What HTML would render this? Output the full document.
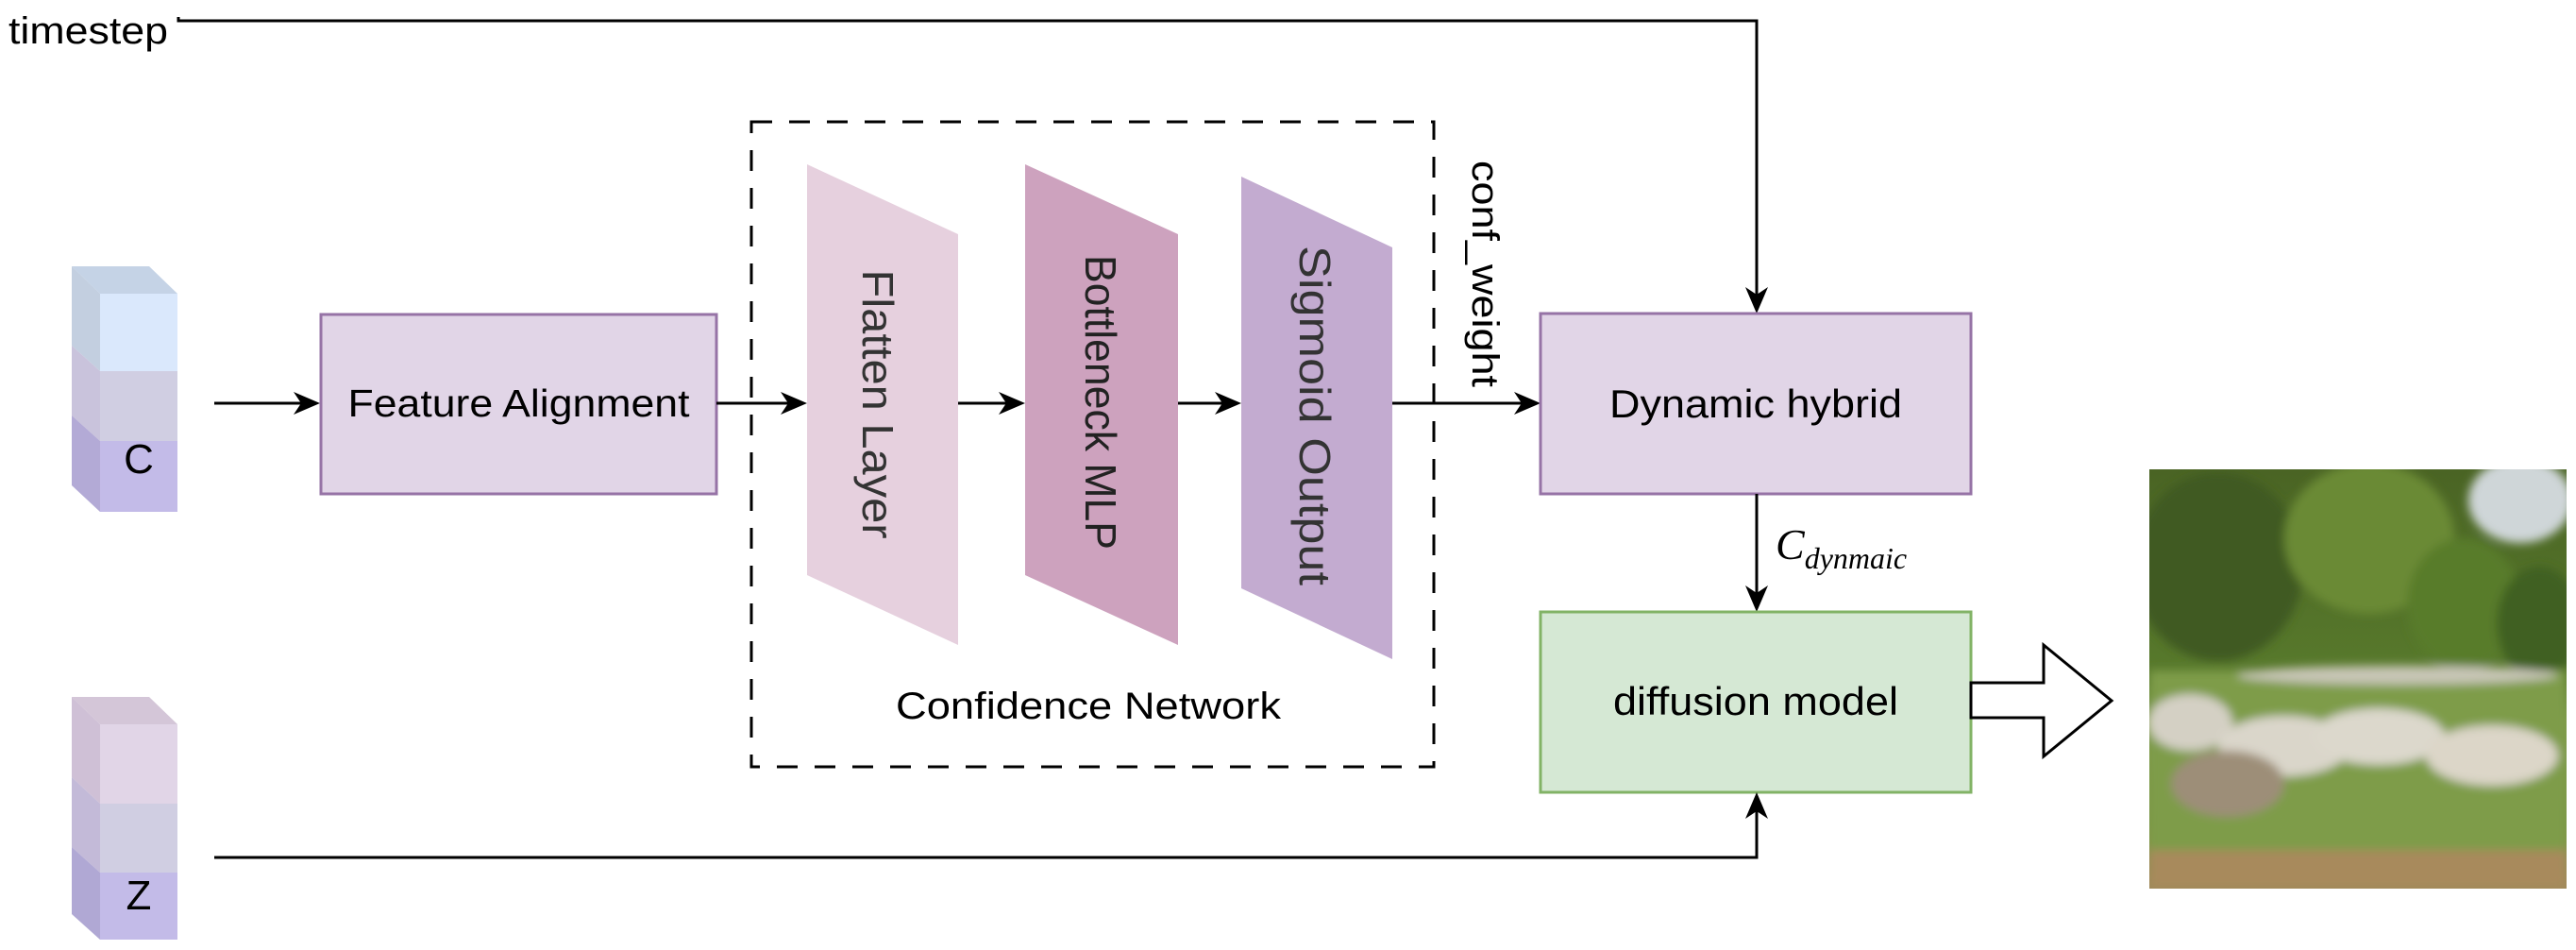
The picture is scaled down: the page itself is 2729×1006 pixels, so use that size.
<!DOCTYPE html>
<html><head><meta charset="utf-8"><style>html,body{margin:0;padding:0;background:#fff}svg{display:block}</style></head>
<body>
<svg width="2729" height="1006" viewBox="0 0 2729 1006" xmlns="http://www.w3.org/2000/svg" font-family="Liberation Sans, Arial, sans-serif">
<defs>
<linearGradient id="sky" x1="0" y1="0" x2="0" y2="1"><stop offset="0" stop-color="#4a6424"/><stop offset="0.5" stop-color="#587a2c"/><stop offset="0.6" stop-color="#7e9a4c"/><stop offset="0.85" stop-color="#7a9444"/><stop offset="1" stop-color="#9c8a5a"/></linearGradient>
<filter id="bl"><feGaussianBlur stdDeviation="5"/></filter>
<clipPath id="pc"><rect x="2277" y="497" width="442" height="444"/></clipPath>
</defs>

<text x="9" y="46" font-size="40" textLength="169" lengthAdjust="spacingAndGlyphs" fill="#000">timestep</text>
<polyline points="189,18 189,22 1861,22 1861,318" fill="none" stroke="#000" stroke-width="3"/>
<polygon points="1861,332 1849,304 1861,312 1873,304" fill="#000"/>

<polygon points="76,282 158,282 188,311 106,311" fill="#c5d3e6"/>
<polygon points="76,282 106,311 106,393 76,366" fill="#c3cfe0"/>
<polygon points="76,366 106,393 106,467 76,440" fill="#c9c3dc"/>
<polygon points="76,440 106,467 106,542 76,514" fill="#b3aad6"/>
<rect x="106" y="311" width="82" height="82" fill="#dae8fc"/>
<rect x="106" y="393" width="82" height="74" fill="#d0cee2"/>
<rect x="106" y="467" width="82" height="75" fill="#c3bbe8"/>
<text x="147" y="501" font-size="44" text-anchor="middle" fill="#000">C</text>

<polygon points="76,738 158,738 188,767 106,767" fill="#d4c6d8"/>
<polygon points="76,738 106,767 106,851 76,823" fill="#cfc0d6"/>
<polygon points="76,823 106,851 106,924 76,897" fill="#c3bad8"/>
<polygon points="76,897 106,924 106,995 76,968" fill="#b0a8d4"/>
<rect x="106" y="767" width="82" height="84" fill="#e1d5e7"/>
<rect x="106" y="851" width="82" height="73" fill="#d0cee2"/>
<rect x="106" y="924" width="82" height="71" fill="#c3bbe8"/>
<text x="147" y="963" font-size="44" text-anchor="middle" fill="#000">Z</text>

<line x1="227" y1="427" x2="325" y2="427" stroke="#000" stroke-width="3"/>
<polygon points="339,427 311,415 319,427 311,439" fill="#000"/>

<rect x="340" y="333" width="419" height="190" fill="#e1d5e7" stroke="#9673a6" stroke-width="3"/>
<text x="549.5" y="441" font-size="41" text-anchor="middle" textLength="362" lengthAdjust="spacingAndGlyphs" fill="#000">Feature Alignment</text>

<rect x="796" y="129" width="723" height="683" fill="none" stroke="#000" stroke-width="3" stroke-dasharray="22,18"/>
<text x="1153" y="761" font-size="40" text-anchor="middle" textLength="408" lengthAdjust="spacingAndGlyphs" fill="#000">Confidence Network</text>

<line x1="759" y1="427" x2="841" y2="427" stroke="#000" stroke-width="3"/>
<polygon points="855,427 827,415 835,427 827,439" fill="#000"/>

<polygon points="855,174 1015,248 1015,683 855,609" fill="#e6d0de"/>
<polygon points="1086,174 1248,248 1248,683 1086,609" fill="#cda2be"/>
<polygon points="1315,187 1475,262 1475,698 1315,623" fill="#c3abd0"/>

<text transform="translate(930,428) rotate(90)" font-size="46" text-anchor="middle" dominant-baseline="central" textLength="285" lengthAdjust="spacingAndGlyphs" fill="#333">Flatten Layer</text>
<text transform="translate(1166,426) rotate(90)" font-size="46" text-anchor="middle" dominant-baseline="central" textLength="312" lengthAdjust="spacingAndGlyphs" fill="#222">Bottleneck MLP</text>
<text transform="translate(1393,440) rotate(90)" font-size="46" text-anchor="middle" dominant-baseline="central" textLength="360" lengthAdjust="spacingAndGlyphs" fill="#333">Sigmoid Output</text>

<line x1="1015" y1="427" x2="1072" y2="427" stroke="#000" stroke-width="3"/>
<polygon points="1086,427 1058,415 1066,427 1058,439" fill="#000"/>
<line x1="1248" y1="427" x2="1301" y2="427" stroke="#000" stroke-width="3"/>
<polygon points="1315,427 1287,415 1295,427 1287,439" fill="#000"/>
<line x1="1475" y1="427" x2="1618" y2="427" stroke="#000" stroke-width="3"/>
<polygon points="1632,427 1604,415 1612,427 1604,439" fill="#000"/>

<text transform="translate(1573,290) rotate(90)" font-size="40" text-anchor="middle" dominant-baseline="central" textLength="240" lengthAdjust="spacingAndGlyphs" fill="#000">conf_weight</text>

<rect x="1632" y="332" width="456" height="191" fill="#e1d5e7" stroke="#9673a6" stroke-width="3"/>
<text x="1860" y="442" font-size="42" text-anchor="middle" textLength="310" lengthAdjust="spacingAndGlyphs" fill="#000">Dynamic hybrid</text>

<line x1="1861" y1="523" x2="1861" y2="634" stroke="#000" stroke-width="3"/>
<polygon points="1861,648 1849,620 1861,628 1873,620" fill="#000"/>
<text x="1881" y="592" font-family="Liberation Serif, serif" font-style="italic" font-size="46" fill="#000">C<tspan font-size="32" dy="10">dynmaic</tspan></text>

<rect x="1632" y="648" width="456" height="191" fill="#d5e8d4" stroke="#82b366" stroke-width="3"/>
<text x="1860" y="757" font-size="42" text-anchor="middle" textLength="302" lengthAdjust="spacingAndGlyphs" fill="#000">diffusion model</text>

<polyline points="227,908 1861,908 1861,853" fill="none" stroke="#000" stroke-width="3"/>
<polygon points="1861,839 1849,867 1861,859 1873,867" fill="#000"/>

<polygon points="2088,723 2165,723 2165,683 2237,742 2165,801 2165,760 2088,760" fill="#fff" stroke="#000" stroke-width="3"/>

<g clip-path="url(#pc)">
<rect x="2277" y="497" width="442" height="444" fill="url(#sky)"/>
<g filter="url(#bl)">
<ellipse cx="2670" cy="530" rx="55" ry="45" fill="#cfd6d8"/>
<ellipse cx="2350" cy="600" rx="90" ry="100" fill="#3f5a20"/>
<ellipse cx="2510" cy="570" rx="90" ry="80" fill="#6b8a34"/>
<ellipse cx="2610" cy="640" rx="60" ry="70" fill="#587c2a"/>
<ellipse cx="2690" cy="660" rx="45" ry="60" fill="#3f6024"/>
<rect x="2277" y="710" width="442" height="231" fill="#7e9c48"/>
<rect x="2277" y="900" width="442" height="41" fill="#a88a5c"/>
<ellipse cx="2540" cy="715" rx="170" ry="10" fill="#c8c6b6"/>
<ellipse cx="2320" cy="765" rx="45" ry="30" fill="#d4d0c4"/>
<ellipse cx="2420" cy="790" rx="70" ry="32" fill="#dad6ca"/>
<ellipse cx="2520" cy="780" rx="70" ry="30" fill="#dcd8cc"/>
<ellipse cx="2640" cy="800" rx="70" ry="32" fill="#dcd6c8"/>
<ellipse cx="2360" cy="830" rx="60" ry="35" fill="#9d8e78"/>
</g>
</g>
</svg>
</body></html>
